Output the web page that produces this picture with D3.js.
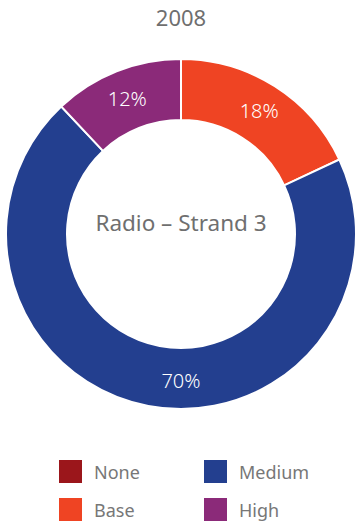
<!DOCTYPE html>
<html>
<head>
<meta charset="utf-8">
<script src="https://cdn.jsdelivr.net/npm/d3@7"></script>
<style>
  html, body { margin: 0; padding: 0; background: #fff; }
  svg { display: block; }
  text { font-family: "Noto Sans", "Open Sans", sans-serif; }
</style>
</head>
<body>
<svg id="chart" width="358" height="526"></svg>
<script>
// Radio – Strand 3, share of each level in 2008
const title = "2008";
const centerLabel = "Radio – Strand 3";
const categories = ["None", "Base", "Medium", "High"];
const values = [0, 18, 70, 12];
const colors = ["#9B161B", "#EF4423", "#233F8F", "#8B2A79"];
const legendOrder = ["None", "Medium", "Base", "High"];

const width = 358, height = 526;
const cx = 181, cy = 234;
const outerR = 175, innerR = 114, labelR = 146;

const svg = d3.select("#chart");

const color = d3.scaleOrdinal().domain(categories).range(colors);

const data = categories.map((c, i) => ({ category: c, value: values[i] }));

const pie = d3.pie().sort(null).value(d => d.value);
const arc = d3.arc().innerRadius(innerR).outerRadius(outerR);
const arcs = pie(data).filter(d => d.data.value > 0);

// title
svg.append("text")
  .attr("x", cx).attr("y", 26)
  .attr("text-anchor", "middle")
  .attr("font-size", 22)
  .attr("fill", "#6f6f6f")
  .text(title);

const g = svg.append("g").attr("transform", `translate(${cx},${cy})`);

g.selectAll("path.slice")
  .data(arcs)
  .join("path")
  .attr("class", "slice")
  .attr("d", arc)
  .attr("fill", d => color(d.data.category))
  .attr("stroke", "#fff")
  .attr("stroke-width", 2);

// value labels: slice middle, large slices labelled at the bottom
function labelAngle(d) {
  const span = d.endAngle - d.startAngle;
  return span > Math.PI ? Math.PI : (d.startAngle + d.endAngle) / 2;
}
g.selectAll("text.value")
  .data(arcs)
  .join("text")
  .attr("class", "value")
  .attr("x", d => labelR * Math.sin(labelAngle(d)))
  .attr("y", d => -labelR * Math.cos(labelAngle(d)))
  .attr("text-anchor", "middle")
  .attr("dominant-baseline", "central")
  .attr("font-size", 20)
  .attr("font-weight", 300)
  .attr("fill", "#fff")
  .text(d => d.data.value + "%");

// centre caption
g.append("text")
  .attr("x", 0).attr("y", -12)
  .attr("text-anchor", "middle")
  .attr("dominant-baseline", "central")
  .attr("font-size", 22.5)
  .attr("fill", "#6f6f6f")
  .text(centerLabel);

// legend, two columns
const legend = svg.append("g");
const colX = d3.scalePoint().domain([0, 1]).range([59, 204]);
const rowY = d3.scalePoint().domain([0, 1]).range([460, 498]);
const items = legend.selectAll("g.item")
  .data(legendOrder)
  .join("g")
  .attr("class", "item")
  .attr("transform", (d, i) => `translate(${colX(i % 2)},${rowY(Math.floor(i / 2))})`);
items.append("rect")
  .attr("width", 23).attr("height", 23)
  .attr("fill", d => color(d));
items.append("text")
  .attr("x", 35).attr("y", 11.5)
  .attr("dominant-baseline", "central")
  .attr("font-size", 18)
  .attr("fill", "#777")
  .text(d => d);
</script>
</body>
</html>
